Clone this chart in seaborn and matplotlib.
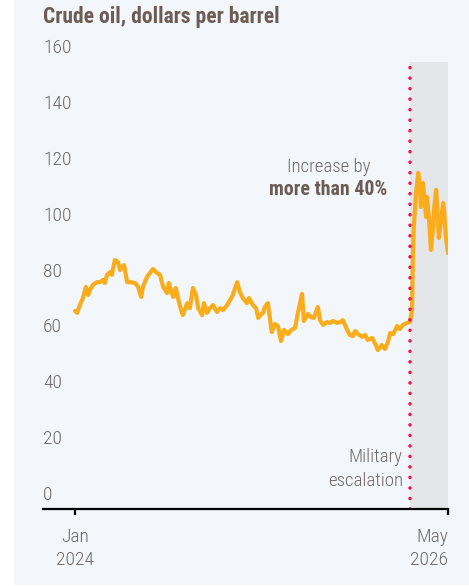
import numpy as np
import pandas as pd
import matplotlib
matplotlib.use("Agg")
import matplotlib.pyplot as plt
import seaborn as sns
from matplotlib.patches import Rectangle
from matplotlib import font_manager

# ── data ─────────────────────────────────────────────────────────────
BASE_DATE = pd.Timestamp("2024-01-01")
DAYS = [0, 5, 11, 18, 25, 30, 34, 41, 50, 57, 64, 68, 73, 80, 84, 91, 98, 103,
        107, 112, 119, 125, 137, 144, 151, 155, 164, 171, 178, 187, 194, 201,
        210, 214, 224, 230, 235, 242, 246, 256, 262, 269, 276, 281, 290, 294,
        301, 308, 315, 324, 331, 338, 347, 354, 360, 370, 376, 383, 392, 397,
        406, 413, 418, 422, 429, 433, 440, 449, 456, 463, 470, 477, 486, 493,
        502, 509, 518, 522, 532, 538, 545, 554, 559, 566, 575, 582, 589, 598,
        605, 611, 621, 627, 634, 639, 646, 655, 662, 668, 678, 684, 691, 700,
        707, 714, 719, 726, 735, 741, 748, 757, 764, 769, 771, 773, 778, 783,
        787, 789, 794, 796, 801, 803, 808, 812, 817, 819, 824, 828, 830, 835,
        840, 842, 846, 851]
PRICE = [70.9, 70.2, 73.0, 75.5, 79.5, 76.6, 78.4, 80.2, 81.2, 81.2, 82.0, 80.9,
         83.8, 84.8, 83.8, 89.1, 88.4, 85.5, 86.6, 87.3, 81.2, 81.2, 80.9, 79.5,
         75.9, 79.5, 83.0, 84.5, 85.9, 84.5, 83.8, 79.5, 77.3, 80.9, 75.9, 79.1,
         75.5, 71.2, 69.4, 73.7, 71.9, 79.1, 76.6, 71.9, 69.4, 73.7, 70.2, 71.9,
         73.0, 70.5, 71.9, 71.2, 73.0, 74.8, 76.6, 81.2, 77.7, 75.5, 73.7, 75.5,
         73.0, 71.9, 68.4, 69.4, 70.2, 72.3, 73.7, 63.3, 66.2, 65.5, 60.1, 64.1,
         62.6, 64.1, 64.8, 70.5, 77.0, 67.3, 69.8, 68.7, 68.4, 72.3, 67.6, 65.9,
         66.9, 66.6, 67.3, 66.6, 66.9, 67.6, 64.1, 62.3, 61.9, 63.7, 62.6, 61.6,
         62.3, 60.5, 61.2, 59.4, 56.9, 58.7, 57.3, 59.8, 63.0, 62.6, 65.5, 64.4,
         65.9, 66.6, 66.9, 71.2, 91.6, 100.9, 113.1, 120.3, 115.2, 108.1, 116.7,
         113.1, 104.5, 111.7, 103.4, 92.7, 100.9, 107.0, 114.2, 103.4, 97.0,
         103.4, 109.5, 107.0, 97.4, 91.6]

ESCALATION_DAY = 764
END_DAY = 851
START_DAY = -73
Y_TICKS = [0, 20, 40, 60, 80, 100, 120, 140, 160]
X_TICK_DATES = ["2024-01-01", "2026-05-01"]
X_TICK_LABELS = ["Jan\n2024", "May\n2026"]

# ── style ─────────────────────────────────────────────────────────────
BG = "#f3f7fb"
TEXT = "#6e6766"
TITLE = "#6b5c54"
ORANGE = "#fbac1a"
RED = "#e8194b"
SHADE = "#e5e6ea"

sns.set_theme(style="white")
installed = {f.name for f in font_manager.fontManager.ttflist}
FONT = [f for f in ["Roboto Condensed", "Liberation Sans Narrow", "Roboto",
                    "DejaVu Sans"] if f in installed]
plt.rcParams["font.family"] = FONT

df = pd.DataFrame({
    "date": BASE_DATE + pd.to_timedelta(DAYS, unit="D"),
    "price": PRICE,
})

fig = plt.figure(figsize=(4.69, 5.86), dpi=100, facecolor="white")
fig.patches.append(Rectangle((14 / 469, 0.002), 1, 1, transform=fig.transFigure,
                             facecolor=BG, edgecolor="none", zorder=-10))
ax = fig.add_axes([43 / 469, 77 / 586, 405 / 469, 447 / 586])
ax.set_facecolor("none")

x0 = BASE_DATE + pd.Timedelta(days=START_DAY)
x_esc = BASE_DATE + pd.Timedelta(days=ESCALATION_DAY)
x1 = BASE_DATE + pd.Timedelta(days=END_DAY)

# shaded period after the escalation, price line, escalation marker
ax.axvspan(x_esc, x1, color=SHADE, lw=0, zorder=0)
sns.lineplot(data=df, x="date", y="price", color=ORANGE, lw=3.0, ax=ax,
             zorder=3, solid_capstyle="round", solid_joinstyle="round")
ax.plot([x_esc, x_esc], [0, 160], color=RED, lw=2.6, zorder=4,
        linestyle=(0, (0.01, 2.9)), dash_capstyle="round")

ax.set_xlim(x0, x1)
ax.set_ylim(0, 160)

for s in ["top", "right", "left"]:
    ax.spines[s].set_visible(False)
ax.spines["bottom"].set_color("black")
ax.spines["bottom"].set_linewidth(1.6)
ax.spines["bottom"].set_zorder(5)

# y labels sit just above their value
ax.set_yticks([])
for v in Y_TICKS:
    ax.annotate(str(v), xy=(0, v), xycoords=("axes fraction", "data"),
                xytext=(0, 10), textcoords="offset points",
                ha="left", va="center", fontsize=14, fontweight="light",
                color=TEXT)

ax.set_xticks(pd.to_datetime(X_TICK_DATES))
ax.set_xticklabels(X_TICK_LABELS, fontsize=14, fontweight="light", color=TEXT,
                   linespacing=1.3)
ax.tick_params(axis="x", bottom=True, length=4, width=1.6, color="black",
               pad=10, direction="out")
ax.get_xticklabels()[-1].set_ha("right")
ax.set_xlabel("")
ax.set_ylabel("")

fig.text(43 / 469, 1 - 17 / 586, "Crude oil, dollars per barrel",
         ha="left", va="center", fontsize=15.5, fontweight="bold", color=TITLE)

ax.text(BASE_DATE + pd.Timedelta(days=578), 122.4, "Increase by",
        ha="center", va="center", fontsize=13.5, fontweight="light", color=TEXT)
ax.text(BASE_DATE + pd.Timedelta(days=578), 114.2, "more than 40%",
        ha="center", va="center", fontsize=14.3, fontweight="bold", color=TITLE)
ax.text(BASE_DATE + pd.Timedelta(days=748), 18.6, "Military",
        ha="right", va="center", fontsize=13.5, fontweight="light", color=TEXT)
ax.text(BASE_DATE + pd.Timedelta(days=748), 10.0, "escalation",
        ha="right", va="center", fontsize=13.5, fontweight="light", color=TEXT)

fig.savefig("out.png", dpi=100, facecolor="white")
